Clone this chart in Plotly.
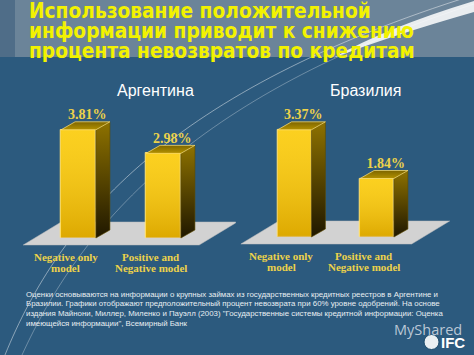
import plotly.graph_objects as go

W, H = 474, 355

# ---------------- data ----------------
title_lines = [
    "Использование положительной",
    "информации приводит к снижению",
    "процента невозвратов по кредитам",
]
countries = ["Аргентина", "Бразилия"]
category_lines = [["Negative only", "model"], ["Positive and", "Negative model"]]
argentina_values = [3.81, 2.98]
brazil_values = [3.37, 1.84]
footnote_lines = [
    "Оценки основываются на информации о крупных займах из государственных кредитных реестров в Аргентине и",
    "Бразилии. Графики отображают предположительный процент невозврата при 60% уровне одобрений. На основе",
    "издания Майнони, Миллер, Миленко и Пауэлл (2003) \"Государственные системы кредитной информации: Оценка",
    "имеющейся информации\", Всемирный Банк",
]

# ---------------- style / geometry ----------------
BG = "#2c5a7e"
BAND = "#6b8499"
FRONT = "#fbc800"
BAR_W = 0.41
DEPTH_PX = (14, 8)
FLOOR_FRONT_PX = 7
FLOOR_X = (-0.65, 1.42)
FLOOR_DEPTH_PX = (38, 23)
LABEL_GOLD = "#ecd24a"

charts = [
    dict(values=argentina_values, xa="x", ya="y", xname="xaxis", yname="yaxis",
         xrange=[-0.75, 1.85], yrange=[-1, 5],
         xdom=[0.03112, 0.49736], ydom=[0.24958, 0.72958], cx=155),
    dict(values=brazil_values, xa="x2", ya="y2", xname="xaxis2", yname="yaxis2",
         xrange=[-0.7, 2.0], yrange=[-1, 4.5],
         xdom=[0.49947, 0.96941], ydom=[0.24282, 0.73549], cx=365),
]

fig = go.Figure()
shapes = []
annotations = []

# background band & decorative curves (paper coords)
def P(x, y):
    return f"{x / W:.4f},{1 - y / H:.4f}"

shapes.append(dict(type="rect", xref="paper", yref="paper", x0=0, x1=1,
                   y0=1 - 57 / H, y1=1, fillcolor=BAND, line_width=0, layer="below"))
shapes.append(dict(type="rect", xref="paper", yref="paper", x0=0, x1=15 / W,
                   y0=1 - 57 / H, y1=1, fillcolor="#4f6d88", line_width=0, layer="below"))
shapes.append(dict(type="path", xref="paper", yref="paper", layer="below",
                   path=f"M {P(5, 355)} C {P(60, 220)} {P(170, 90)} {P(474, -5)}",
                   line=dict(color="rgba(255,255,255,0.45)", width=1)))
shapes.append(dict(type="path", xref="paper", yref="paper", layer="below",
                   path=f"M {P(22, 355)} C {P(80, 228)} {P(190, 96)} {P(474, 4)}",
                   line=dict(color="rgba(255,255,255,0.3)", width=1)))
shapes.append(dict(type="path", xref="paper", yref="paper", layer="below",
                   path=f"M {P(333, 58)} Q {P(385, 28)} {P(474, 1)} L {P(474, 12)} Q {P(390, 36)} {P(333, 58)} Z",
                   fillcolor="rgba(255,255,255,0.85)", line_width=0))
# small globe mark of the logo
shapes.append(dict(type="circle", xref="paper", yref="paper", layer="above",
                   x0=424 / W, x1=439 / W, y0=1 - 349.5 / H, y1=1 - 334.5 / H,
                   fillcolor="rgba(255,255,255,0.9)", line=dict(color="#1d4a6a", width=1)))

layout_axes = {}
for ch in charts:
    vals = ch["values"]
    xa, ya = ch["xa"], ch["ya"]
    sx = (ch["xdom"][1] - ch["xdom"][0]) * W / (ch["xrange"][1] - ch["xrange"][0])
    sy = (ch["ydom"][1] - ch["ydom"][0]) * H / (ch["yrange"][1] - ch["yrange"][0])
    dx, dy = DEPTH_PX[0] / sx, DEPTH_PX[1] / sy
    xs = list(range(len(vals)))

    # floor
    fy0 = -FLOOR_FRONT_PX / sy
    fdx, fdy = FLOOR_DEPTH_PX[0] / sx, FLOOR_DEPTH_PX[1] / sy
    fx0, fx1 = FLOOR_X
    path = (f"M {fx0},{fy0} L {fx1},{fy0} L {fx1 + fdx},{fy0 + fdy} "
            f"L {fx0 + fdx},{fy0 + fdy} Z")
    shapes.append(dict(type="path", xref=xa, yref=ya, path=path, layer="below",
                       fillcolor="#d2d2d2", line=dict(color="#bdbdbd", width=0.5)))

    # front faces
    fig.add_trace(go.Bar(x=xs, y=vals, width=BAR_W, xaxis=xa, yaxis=ya,
                         marker=dict(color=FRONT, line=dict(color="#ffe27a", width=1)),
                         showlegend=False, hoverinfo="skip"))

    for i, v in zip(xs, vals):
        l, r = i - BAR_W / 2, i + BAR_W / 2
        # front shading overlay
        fig.add_trace(go.Scatter(
            x=[l, r, r, l, l], y=[0, 0, v, v, 0], xaxis=xa, yaxis=ya,
            mode="lines", fill="toself", line=dict(width=0),
            fillgradient=dict(type="vertical", start=0, stop=v,
                              colorscale=[[0, "rgba(150,95,0,0.3)"],
                                          [1, "rgba(255,255,210,0.15)"]]),
            showlegend=False, hoverinfo="skip"))
        # side face
        fig.add_trace(go.Scatter(
            x=[r, r, r + dx, r + dx, r], y=[0, v, v + dy, dy, 0], xaxis=xa, yaxis=ya,
            mode="lines", fill="toself", line=dict(color="#5e4b00", width=0.6),
            fillgradient=dict(type="vertical", start=0, stop=v + dy,
                              colorscale=[[0, "#1f1700"], [1, "#8e7200"]]),
            showlegend=False, hoverinfo="skip"))
        # top face
        fig.add_trace(go.Scatter(
            x=[l, r, r + dx, l + dx, l], y=[v, v, v + dy, v + dy, v], xaxis=xa, yaxis=ya,
            mode="lines", fill="toself", line=dict(color="rgba(255,226,120,0.9)", width=0.8),
            fillgradient=dict(type="vertical", start=v, stop=v + dy,
                              colorscale=[[0, "#b39100"], [1, "#7d6500"]]),
            showlegend=False, hoverinfo="skip"))

    # value labels
    fig.add_trace(go.Scatter(
        x=[i + dx / 2 + 0.02 for i in xs], y=[v + dy + 6 / sy for v in vals],
        xaxis=xa, yaxis=ya, mode="text",
        text=[f"<b>{v:.2f}%</b>" for v in vals], textposition="middle center",
        textfont=dict(family="Liberation Serif", size=14, color=LABEL_GOLD),
        cliponaxis=False, showlegend=False, hoverinfo="skip"))

    # category labels
    for i, lines in zip(xs, category_lines):
        for k, txt in enumerate(lines):
            annotations.append(dict(
                x=i, y=0, xref=xa, yref=ya, text=f"<b>{txt}</b>", showarrow=False,
                xshift=-13, yshift=-19 - 11 * k, xanchor="center", yanchor="middle",
                font=dict(family="Liberation Serif", size=11, color=LABEL_GOLD)))

    layout_axes[ch["xname"]] = dict(domain=ch["xdom"], range=ch["xrange"], visible=False,
                                     anchor=ya, fixedrange=True)
    layout_axes[ch["yname"]] = dict(domain=ch["ydom"], range=ch["yrange"], visible=False,
                                     anchor=xa, fixedrange=True)

# country names
for ch, name in zip(charts, countries):
    annotations.append(dict(x=ch["cx"] / W, y=1 - 90 / H, xref="paper", yref="paper",
                            text=name, showarrow=False, xanchor="center", yanchor="middle",
                            font=dict(family="Liberation Sans", size=16, color="white")))

# title
for k, txt in enumerate(title_lines):
    annotations.append(dict(x=27 / W, y=1 - (11 + 20 * k) / H, xref="paper", yref="paper",
                            text=f"<b>{txt}</b>", showarrow=False,
                            xanchor="left", yanchor="middle",
                            font=dict(family="DejaVu Sans Condensed", size=20.7, color="#f2f200")))

# footnote
for k, txt in enumerate(footnote_lines):
    annotations.append(dict(x=24 / W, y=1 - (294 + 9.7 * k) / H, xref="paper", yref="paper",
                            text=txt, showarrow=False, xanchor="left", yanchor="middle",
                            font=dict(family="Liberation Sans", size=7.85, color="#e8eef2")))

# watermark / logo
annotations.append(dict(x=392 / W, y=1 - 329 / H, xref="paper", yref="paper", text="MyShared",
                        showarrow=False, xanchor="left", yanchor="middle",
                        font=dict(family="Open Sans", size=14.5, color="rgba(215,222,230,0.85)")))
annotations.append(dict(x=467 / W, y=1 - 342 / H, xref="paper", yref="paper", text="<b>IFC</b>",
                        showarrow=False, xanchor="right", yanchor="middle",
                        font=dict(family="Liberation Sans", size=15, color="white")))

fig.update_layout(
    width=W, height=H, margin=dict(l=0, r=0, t=0, b=0),
    paper_bgcolor=BG, plot_bgcolor="rgba(0,0,0,0)",
    shapes=shapes, annotations=annotations, bargap=0, showlegend=False,
    **layout_axes,
)

fig.write_html("out.html", config={"displayModeBar": False},
               post_script="document.body.style.margin='0';document.body.style.background='" + BG + "';")
